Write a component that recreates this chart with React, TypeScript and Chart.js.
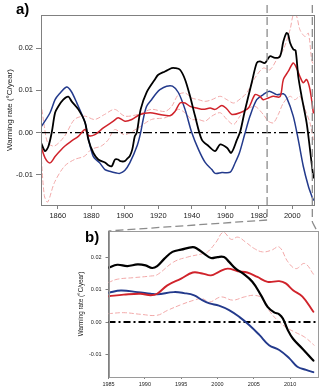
import React, { useEffect, useRef } from "react";
import { Chart, registerables } from "chart.js";
Chart.register(...registerables);

const W = 329;
const H = 389;
const FONT = "'Liberation Sans', Arial, sans-serif";

// ---------- Panel a data ----------
const aBlackYears = [1850,1852.4,1854.4,1856.4,1858.4,1860.3,1863.3,1866.3,1868.3,1872.3,1876.3,1878.3,1881.2,1884.2,1888.2,1890,1892.2,1894.2,1896,1897.5,1900,1901.5,1903,1904.5,1906,1907.2,1909.5,1913,1918,1920,1924,1926,1928,1930,1933,1936,1939,1942,1946,1950,1954,1957,1961,1963.6,1967,1969,1971.5,1975.8,1978.8,1980.7,1983.7,1986.7,1989.7,1992.7,1994.7,1996.5,1997.5,1998.7,2000.7,2002,2003.6,2005.6,2008.6,2010.6,2012.6];
const aBlackValues = [-0.0024,-0.0044,-0.0033,0,0.0047,0.0062,0.0078,0.0085,0.0074,0.0055,0.0024,-0.0017,-0.0048,-0.0064,-0.0071,-0.0077,-0.008,-0.0064,-0.0064,-0.0068,-0.0068,-0.0062,-0.0056,-0.004,-0.0009,0,0.0055,0.0095,0.0126,0.0137,0.0145,0.0149,0.0153,0.0153,0.0149,0.0126,0.0086,0.0039,-0.0017,-0.0032,-0.0044,-0.0028,-0.0036,-0.0048,-0.0017,0.0003,0.0048,0.0118,0.0165,0.0169,0.0165,0.0181,0.0177,0.0181,0.0216,0.0236,0.0234,0.0213,0.0197,0.0195,0.0133,0.0086,0.0023,-0.004,-0.0107];

const aBlueYears = [1850,1855.4,1858.4,1861,1865.3,1868,1871.3,1876.3,1877.5,1881.2,1885,1888.2,1891,1895,1897,1900,1903,1907.5,1909.5,1911,1913,1916,1919,1921,1925,1928.5,1932,1936,1940,1944,1948,1952,1954,1958,1963,1966,1968.5,1971.5,1974.8,1978.8,1982.7,1986.3,1990.7,1994.7,1996.7,2000.6,2003.6,2006.6,2009.6,2011.6,2012.6];
const aBlueValues = [0.0013,0.0047,0.0078,0.0092,0.0108,0.0098,0.0071,0.0024,0,-0.0057,-0.0072,-0.0088,-0.0092,-0.0096,-0.0097,-0.009,-0.0072,-0.003,0,0.0031,0.0062,0.0078,0.0094,0.0102,0.011,0.011,0.0095,0.0055,0,-0.004,-0.0071,-0.0088,-0.0097,-0.0095,-0.0094,-0.0071,-0.0048,-0.0006,0.0039,0.0078,0.009,0.0098,0.009,0.0092,0.0083,0.0039,-0.0017,-0.008,-0.0127,-0.015,-0.016];

const aRedYears = [1850,1852.4,1855.4,1858.4,1861.3,1864.3,1868.3,1872.3,1876.3,1878.3,1882.2,1887.2,1893.2,1896.1,1900.1,1904.2,1909.1,1915.1,1921,1927,1930,1933,1936,1939,1943,1947,1951,1954,1958,1961,1964,1968.8,1973.8,1977.8,1980.7,1982.7,1985.7,1988.7,1992.7,1994.7,1997.6,2000.6,2002.6,2004.6,2006.6,2008.6,2010.6,2012.6];
const aRedValues = [-0.0032,-0.006,-0.0072,-0.0057,-0.0044,-0.0032,-0.002,-0.0009,0.0007,-0.0007,-0.0005,0.0011,0.0027,0.0035,0.0027,0.0031,0.0043,0.0047,0.0043,0.004,0.005,0.007,0.007,0.0062,0.0058,0.0055,0.0058,0.0055,0.0064,0.0056,0.0043,0.0047,0.0058,0.009,0.0086,0.0078,0.0082,0.0086,0.0085,0.0126,0.0145,0.0165,0.0153,0.0133,0.0118,0.0126,0.0102,0.0047];

const aUpperYears = [1850,1852,1854,1858,1864,1870,1876,1882,1888,1894,1900,1908,1916,1924,1928,1932,1936,1940,1944,1948,1952,1957,1961,1965,1969,1972.8,1977.8,1982.7,1986.7,1990.7,1994.7,1998.7,2000.7,2002.6,2004.6,2007.6,2009.6,2011.6,2012.6];
const aUpperValues = [0.007,0.0015,-0.0024,-0.0032,-0.0009,0.0031,0.0039,0.0031,0.0043,0.0055,0.0039,0.0043,0.0055,0.005,0.0062,0.009,0.0094,0.0082,0.0078,0.0074,0.0078,0.0086,0.0078,0.007,0.008,0.0094,0.013,0.0153,0.0149,0.0173,0.0197,0.0244,0.028,0.0276,0.0244,0.0228,0.0236,0.0173,0.016];

const aLowerYears = [1850,1852,1854,1858,1864,1870,1876,1880,1886,1890,1894,1900,1908,1916,1924,1928,1932,1936,1940,1944,1948,1952,1957,1961,1965,1969,1972.8,1977.8,1982.7,1985.7,1988.7,1991.7,1994.7,1998.7,2001.6,2004.6,2007.6,2010.6,2012.6];
const aLowerValues = [-0.0048,-0.015,-0.0165,-0.0119,-0.008,-0.0064,-0.0056,-0.004,-0.0032,-0.0018,0.0007,-0.0005,0.0011,0.0031,0.0035,0.0043,0.0055,0.0047,0.0031,0.0031,0.0027,0.0039,0.0047,0.0031,0.0019,0.004,0.0055,0.0062,0.0043,0.0027,0.0023,0.0043,0.007,0.0086,0.0078,0.0086,0.0055,0.0023,-0.0017];

// ---------- Panel b data ----------
const bBlackYears = [1985,1986.2,1987.6,1989,1990.1,1991,1991.7,1992.7,1993.8,1995,1996.6,1997.2,1998.2,1999.1,2000,2000.9,2001.6,2002.5,2003.5,2004.8,2006,2006.9,2007.8,2008.5,2009,2009.7,2010.4,2011.7,2013.2];
const bBlackValues = [0.0169,0.0178,0.0174,0.0179,0.0176,0.0168,0.0174,0.0197,0.0218,0.0225,0.0233,0.0228,0.0212,0.0199,0.0202,0.0202,0.0187,0.0166,0.0151,0.0125,0.0083,0.0047,0.003,0.0024,0.0011,-0.0026,-0.0052,-0.0083,-0.012];

const bRedYears = [1985,1987.1,1989.4,1990.8,1991.7,1993.1,1995,1996.6,1997.9,1999.1,2000.2,2001.4,2002.8,2004.1,2005.5,2006.9,2008.5,2009.4,2010.4,2011.7,2013.2];
const bRedValues = [0.008,0.0085,0.0088,0.0083,0.0088,0.0114,0.0135,0.0154,0.0151,0.0145,0.0156,0.0166,0.0158,0.0154,0.014,0.0125,0.0127,0.012,0.0099,0.0079,0.0032];

const bBlueYears = [1985,1986.7,1989,1990.8,1991.7,1994,1995.4,1996.8,1997.9,1998.9,2000.2,2001.6,2003,2004.4,2005.8,2007.1,2008.5,2009.9,2011,2012.2,2013.2];
const bBlueValues = [0.0091,0.0098,0.0093,0.0088,0.0086,0.0093,0.009,0.0083,0.0068,0.0058,0.0051,0.0037,0.0016,-0.001,-0.0041,-0.0072,-0.0087,-0.0113,-0.0139,-0.0149,-0.0156];

const bUpperYears = [1985,1986.2,1988.5,1990.8,1991.7,1994,1995.9,1997.9,1998.6,1999.8,2000.8,2001.9,2002.8,2003.9,2005.1,2006.2,2007.4,2008.5,2009.7,2010.8,2012,2013.3];
const bUpperValues = [0.0123,0.0133,0.0138,0.0143,0.0147,0.0187,0.0202,0.0212,0.0217,0.0248,0.0279,0.0257,0.0264,0.0248,0.0228,0.0218,0.0223,0.0233,0.0187,0.0166,0.0182,0.0146];

const bLowerYears = [1985,1987.1,1989.4,1991.7,1993.1,1995,1996.8,1997.9,1998.9,2000.5,2002.1,2003.7,2005.1,2006.2,2007.1,2008.5,2009.7,2010.8,2012,2013.3];
const bLowerValues = [0.0026,0.0029,0.0024,0.0021,0.0036,0.0054,0.0068,0.0073,0.0062,0.0078,0.0068,0.0078,0.0083,0.0073,0.0036,0,-0.002,-0.0033,-0.0047,-0.0072];

// ---------- axes / labels ----------
const aXRange = [1850, 2013];
const bXRange = [1985, 2013.7];
const aYRange = [-0.0172, 0.0279];
const bYRange = [-0.0171, 0.0283];
const aXTicks = [1860, 1880, 1900, 1920, 1940, 1960, 1980, 2000];
const bXTicks = [1985, 1990, 1995, 2000, 2005, 2010];
const yTicks = [-0.01, 0, 0.01, 0.02];
const yTickLabels = ["-0.01", "0.00", "0.01", "0.02"];
const zoomYears = [1985, 2012];
const yTitle = "Warming rate (\u00B0C/year)";
const panelLabels = ["a)", "b)"];

const BLACK = "#000000";
const BLUE = "#233a8c";
const RED = "#d0232b";
const PINK = "#f2a9a9";
const GRAY = "#808080";

function pts(xs: number[], ys: number[]) {
  return xs.map((x, i) => ({ x, y: ys[i] }));
}

function makeDatasets(
  s: { black: any; blue: any; red: any; upper: any; lower: any },
  xr: number[],
  w: number,
  tension: number,
  zeroDash: number[],
  zeroWidth: number
) {
  const base = { pointRadius: 0, borderJoinStyle: "round", borderCapStyle: "round", fill: false, tension };
  return [
    { ...base, label: "black", data: s.black, borderColor: BLACK, borderWidth: w + 0.3, order: 0 },
    { ...base, label: "red", data: s.red, borderColor: RED, borderWidth: w, order: 1 },
    { ...base, label: "blue", data: s.blue, borderColor: BLUE, borderWidth: w, order: 2 },
    { ...base, label: "zero", data: [{ x: xr[0], y: 0 }, { x: xr[1], y: 0 }], borderColor: BLACK, borderWidth: zeroWidth, borderDash: zeroDash, borderCapStyle: "butt", tension: 0, order: 3 },
    { ...base, label: "upper", data: s.upper, borderColor: PINK, borderWidth: 1, borderDash: [4, 3], order: 4 },
    { ...base, label: "lower", data: s.lower, borderColor: PINK, borderWidth: 1, borderDash: [4, 3], order: 5 },
  ];
}

export default function App() {
  const refA = useRef<HTMLCanvasElement | null>(null);
  const refB = useRef<HTMLCanvasElement | null>(null);

  useEffect(() => {
    if (!refA.current || !refB.current) return;

    const panelAPlugin = {
      id: "panelA",
      afterDraw(chart: any) {
        const { ctx, chartArea: ca, scales } = chart;
        ctx.save();
        ctx.strokeStyle = GRAY;
        ctx.lineWidth = 1;
        ctx.strokeRect(Math.round(ca.left) + 0.5, Math.round(ca.top) + 0.5, Math.round(ca.right - ca.left), Math.round(ca.bottom - ca.top));
        ctx.setLineDash([8, 4]);
        ctx.strokeStyle = "#8c8c8c";
        ctx.lineWidth = 1.3;
        zoomYears.forEach((yr, i) => {
          const x = scales.x.getPixelForValue(yr);
          ctx.beginPath();
          ctx.moveTo(x, 5);
          ctx.lineTo(x, i === 0 ? 220 : 222);
          ctx.stroke();
        });
        ctx.setLineDash([]);
        ctx.fillStyle = "#000";
        ctx.font = `bold 15px ${FONT}`;
        ctx.textBaseline = "alphabetic";
        ctx.fillText(panelLabels[0], 16, 14);
        ctx.restore();
      },
    };

    const commonY = (range: number[], width: number, fontSize: number, titleSize: number, tickLen: number, pad: number, titlePad: number) => ({
      type: "linear",
      min: range[0],
      max: range[1],
      afterBuildTicks: (s: any) => {
        s.ticks = yTicks.map((v) => ({ value: v }));
      },
      afterFit: (s: any) => {
        s.width = width;
      },
      grid: { drawOnChartArea: false, drawTicks: true, tickLength: tickLen, color: GRAY },
      border: { display: true, color: GRAY },
      ticks: {
        font: { family: FONT, size: fontSize },
        color: "#222",
        padding: pad,
        callback: (v: number) => yTickLabels[yTicks.indexOf(v)] ?? "",
      },
      title: {
        display: true,
        text: yTitle,
        font: { family: FONT, size: titleSize },
        color: "#222",
        padding: { top: titlePad, bottom: 0 },
      },
    });

    const commonX = (range: number[], ticksArr: number[], height: number, fontSize: number, tickLen: number, pad: number) => ({
      type: "linear",
      min: range[0],
      max: range[1],
      afterBuildTicks: (s: any) => {
        s.ticks = ticksArr.map((v) => ({ value: v }));
      },
      afterFit: (s: any) => {
        s.height = height;
      },
      grid: { drawOnChartArea: false, drawTicks: true, tickLength: tickLen, color: GRAY },
      border: { display: true, color: GRAY },
      ticks: {
        font: { family: FONT, size: fontSize },
        color: "#222",
        padding: pad,
        maxRotation: 0,
        autoSkip: false,
        callback: (v: number) => String(v),
      },
    });

    const chartA = new Chart(refA.current, {
      type: "line",
      data: {
        datasets: makeDatasets(
          {
            black: pts(aBlackYears, aBlackValues),
            blue: pts(aBlueYears, aBlueValues),
            red: pts(aRedYears, aRedValues),
            upper: pts(aUpperYears, aUpperValues),
            lower: pts(aLowerYears, aLowerValues),
          },
          aXRange,
          1.5,
          0.3,
          [9, 3, 2, 3],
          1.2
        ) as any,
      },
      options: {
        animation: false,
        responsive: false,
        devicePixelRatio: 1,
        layout: { padding: { left: 0, top: 15, right: 15, bottom: H - 205 - 20 } },
        plugins: { legend: { display: false }, tooltip: { enabled: false } },
        scales: {
          x: commonX(aXRange, aXTicks, 20, 7.5, 4, 2),
          y: commonY(aYRange, 41, 7.5, 8, 5, 3, 5),
        } as any,
      },
      plugins: [panelAPlugin],
    });

    const panelBPlugin = {
      id: "panelB",
      afterDraw(chart: any) {
        const { ctx, chartArea: ca } = chart;
        ctx.save();
        ctx.strokeStyle = "#9a9a9a";
        ctx.lineWidth = 1;
        ctx.strokeRect(Math.round(ca.left) + 0.5, Math.round(ca.top) + 0.5, Math.round(ca.right - ca.left), Math.round(ca.bottom - ca.top));
        ctx.setLineDash([8, 4]);
        ctx.strokeStyle = "#8c8c8c";
        ctx.lineWidth = 1.3;
        const xa0 = chartA.scales.x.getPixelForValue(zoomYears[0]);
        const xa1 = chartA.scales.x.getPixelForValue(zoomYears[1]);
        ctx.beginPath();
        ctx.moveTo(xa0, 220);
        ctx.lineTo(ca.left, ca.top);
        ctx.stroke();
        ctx.beginPath();
        ctx.moveTo(xa1, 222);
        ctx.lineTo(ca.right, ca.top);
        ctx.stroke();
        ctx.setLineDash([]);
        ctx.fillStyle = "#000";
        ctx.font = `bold 15px ${FONT}`;
        ctx.fillText(panelLabels[1], 85, 242);
        ctx.restore();
      },
    };

    const chartB = new Chart(refB.current, {
      type: "line",
      data: {
        datasets: makeDatasets(
          {
            black: pts(bBlackYears, bBlackValues),
            blue: pts(bBlueYears, bBlueValues),
            red: pts(bRedYears, bRedValues),
            upper: pts(bUpperYears, bUpperValues),
            lower: pts(bLowerYears, bLowerValues),
          },
          bXRange,
          1.9,
          0.4,
          [7, 3, 2, 3],
          2.2
        ) as any,
      },
      options: {
        animation: false,
        responsive: false,
        devicePixelRatio: 1,
        layout: { padding: { left: 73, top: 231, right: 12, bottom: 0 } },
        plugins: { legend: { display: false }, tooltip: { enabled: false } },
        scales: {
          x: commonX(bXRange, bXTicks, 12, 5.5, 2, 2),
          y: commonY(bYRange, 35.5, 5.5, 6.3, 3, 4, 4),
        } as any,
      },
      plugins: [panelBPlugin],
    });

    return () => {
      chartB.destroy();
      chartA.destroy();
    };
  }, []);

  return (
    <div style={{ position: "fixed", left: 0, top: 0, width: W, height: H, background: "#fff" }}>
      <canvas ref={refA} width={W} height={H} style={{ position: "absolute", left: 0, top: 0, width: W, height: H }} />
      <canvas ref={refB} width={W} height={H} style={{ position: "absolute", left: 0, top: 0, width: W, height: H }} />
    </div>
  );
}
